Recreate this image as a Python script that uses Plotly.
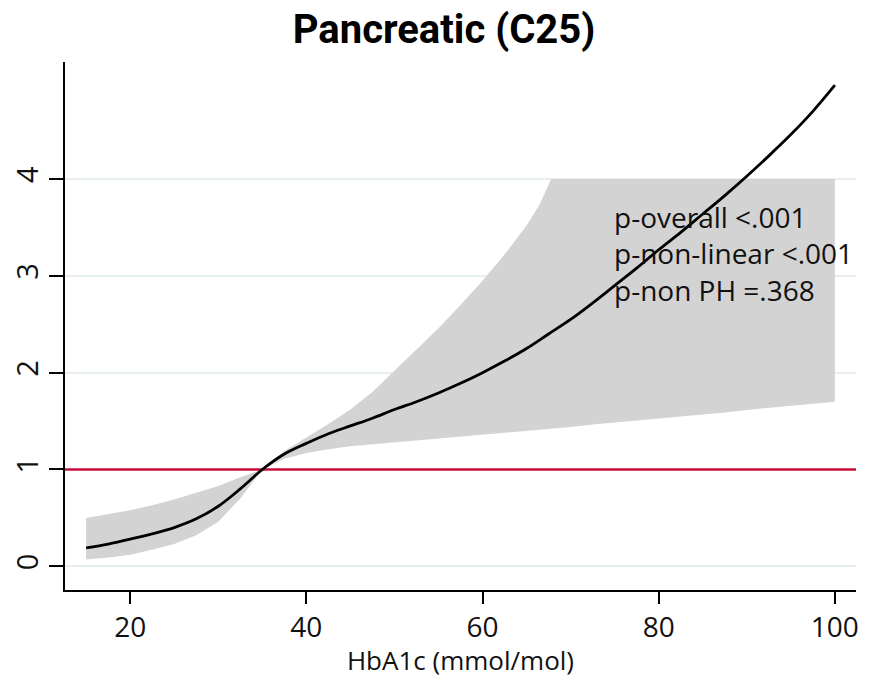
import plotly.graph_objects as go

# Data
hba1c = [15, 17.5, 20, 22.5, 25, 27.5, 30, 32.5, 35, 37.5, 40, 42.5, 45, 47.5, 50, 52.5, 55, 57.5,
         60, 62.5, 65, 67.5, 70, 72.5, 75, 77.5, 80, 82.5, 85, 87.5, 90, 92.5, 95, 97.5, 100]
hr = [0.19, 0.23, 0.28, 0.335, 0.40, 0.49, 0.62, 0.80, 1.00, 1.16, 1.27, 1.37, 1.45, 1.53, 1.62, 1.70, 1.79, 1.89,
      2.00, 2.12, 2.25, 2.40, 2.55, 2.72, 2.90, 3.08, 3.27, 3.45, 3.64, 3.83, 4.03, 4.24, 4.46, 4.70, 4.97]
ci_lower = [0.07, 0.09, 0.12, 0.17, 0.23, 0.32, 0.46, 0.70, 1.00, 1.11, 1.17, 1.21, 1.24, 1.26, 1.28, 1.30, 1.32, 1.34,
            1.36, 1.38, 1.40, 1.42, 1.44, 1.465, 1.49, 1.51, 1.53, 1.55, 1.57, 1.59, 1.615, 1.64, 1.66, 1.68, 1.70]
# upper CI is truncated at 4 in the figure
upper_x = [15, 17.5, 20, 22.5, 25, 27.5, 30, 32.5, 35, 37.5, 40, 42.5, 45, 47.5, 50, 52.5, 55, 57.5,
           60, 62.5, 65, 66.5, 67.8, 100]
ci_upper = [0.50, 0.54, 0.58, 0.63, 0.69, 0.76, 0.83, 0.92, 1.00, 1.19, 1.33, 1.47, 1.62, 1.80, 2.02, 2.24, 2.46, 2.70,
            2.95, 3.22, 3.52, 3.74, 4.0, 4.0]
ref_value = 1
x_ticks = [20, 40, 60, 80, 100]
y_ticks = [0, 1, 2, 3, 4]
stats_lines = ["p-overall <.001", "p-non-linear <.001", "p-non PH =.368"]

FONT = "Open Sans, Roboto, sans-serif"
TITLE_FONT = "Roboto, Open Sans, sans-serif"
BAND = "#d3d3d3"

fig = go.Figure()
fig.add_trace(go.Scatter(x=upper_x + hba1c[::-1], y=ci_upper + ci_lower[::-1], mode="lines",
                         line=dict(width=0, color=BAND), fill="toself", fillcolor=BAND,
                         showlegend=False, hoverinfo="skip"))
fig.add_trace(go.Scatter(x=[12.6, 102.4], y=[ref_value, ref_value], mode="lines",
                         line=dict(color="#c8103a", width=2.5), showlegend=False))
fig.add_trace(go.Scatter(x=hba1c, y=hr, mode="lines", line=dict(color="black", width=2.8, shape="spline"),
                         showlegend=False))

fig.add_annotation(x=75, y=3.23, text="<br>".join(stats_lines), showarrow=False, xanchor="left",
                   yanchor="middle", align="left", xshift=-3,
                   font=dict(family=FONT, size=28, color="#111111"))

fig.update_layout(
    width=871, height=678,
    margin=dict(l=65, r=15, t=62, b=88),
    paper_bgcolor="white", plot_bgcolor="white",
    title=dict(text="<b>Pancreatic (C25)</b>", x=444 / 871, xref="container", xanchor="center",
               y=1 - 28.5 / 678, yref="container", yanchor="middle",
               font=dict(family=TITLE_FONT, size=40, color="black")),
    font=dict(family=FONT, color="#111111"),
    xaxis=dict(range=[12.6, 102.4], tickvals=x_ticks, ticks="outside", ticklen=12, tickwidth=1.5,
               tickcolor="black", showline=True, linecolor="black", linewidth=1.5, showgrid=False,
               zeroline=False, tickfont=dict(size=28), automargin=False,
               title=dict(text="HbA1c (mmol/mol)", font=dict(size=26), standoff=3)),
    yaxis=dict(range=[-0.245, 5.21], tickvals=y_ticks, ticks="outside", ticklen=14, tickwidth=1.5,
               tickcolor="black", showline=True, linecolor="black", linewidth=1.5,
               showgrid=True, gridcolor="#e6eeee", gridwidth=2, zeroline=False, automargin=False,
               tickangle=-90, tickfont=dict(size=29)),
)

fig.write_html("out.html")
